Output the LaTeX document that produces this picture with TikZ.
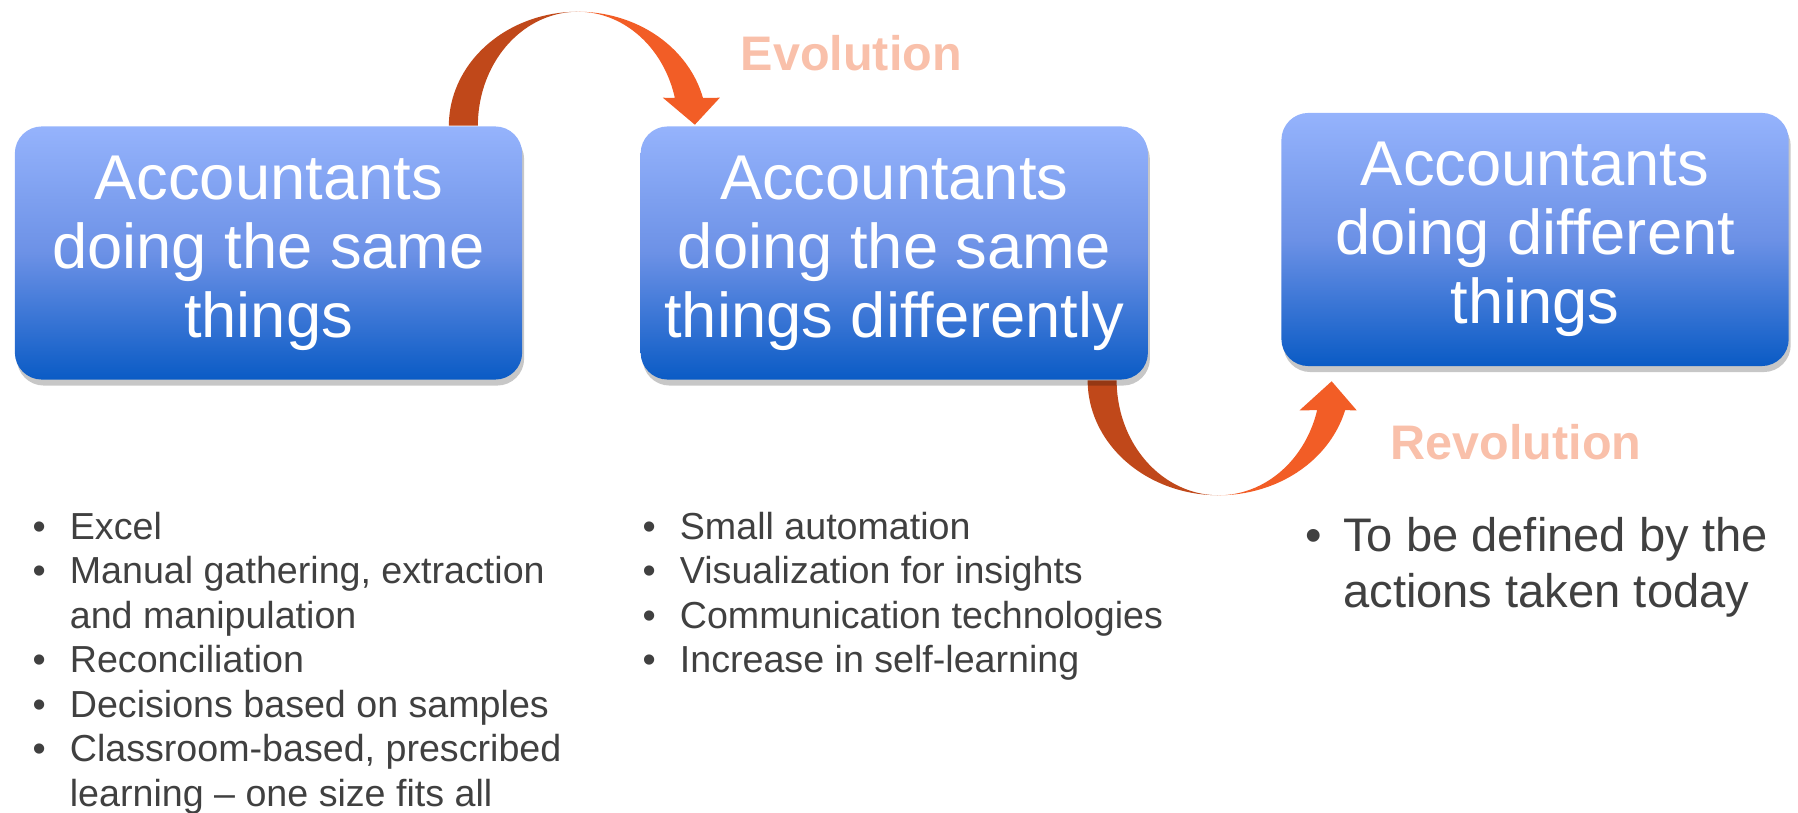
\documentclass[tikz,border=0pt]{standalone}
\usepackage{fontspec}
\setmainfont{Liberation Sans}
\usetikzlibrary{positioning,shadows,backgrounds}
\definecolor{boxtop}{RGB}{149,179,252}
\definecolor{boxmid}{RGB}{108,145,230}
\definecolor{boxbot}{RGB}{10,91,197}
\definecolor{arrdark}{RGB}{192,72,26}
\definecolor{arrbright}{RGB}{242,93,38}
\definecolor{labelc}{RGB}{249,192,170}
\definecolor{listc}{RGB}{64,64,64}

\begin{document}
\begin{tikzpicture}[
x=0.01cm, y=-0.01cm,
stage/.style={rounded corners=0.27cm, minimum width=5.07cm, minimum height=2.53cm,
  inner sep=0pt, align=center, text=white,
  top color=boxtop, bottom color=boxbot, middle color=boxmid,
  drop shadow={shadow xshift=0.02cm, shadow yshift=-0.06cm, fill=black, opacity=0.22},
  font=\fontsize{18}{19.6}\selectfont},
change/.style={anchor=base west, inner sep=0pt, text=labelc, font=\bfseries\fontsize{13.8}{16}\selectfont},
liste/.style={anchor=base west, inner sep=0pt, text=listc}
]
\useasboundingbox (0,0) rectangle (1798,813);

% Kaesten
\node[stage] (same) at (268.5,253) {Accountants\\doing the same\\things};
\node[stage, right=1.17cm of same] (diff) {Accountants\\doing the same\\things differently};
\node[stage, right=1.32cm of diff, yshift=0.135cm] (new) {Accountants\\doing different\\things};

% Bogen oben (Evolution)
\begin{scope}[on background layer, shift={(same.north east)}]
\def\ry{114}
\fill[arrdark] plot[domain=180:90, samples=40] ({55+129*cos(\x)},{-\ry*sin(\x)})
  -- plot[domain=90:180, samples=40] ({55+100*cos(\x)},{-\ry*sin(\x)}) -- cycle;
\fill[arrbright] plot[domain=90:14.1, samples=40] ({55+129*cos(\x)},{-\ry*sin(\x)})
  -- (197,-28) -- (172,-1) -- (140,-28)
  -- plot[domain=14.1:90, samples=40] ({55+100*cos(\x)},{-\ry*sin(\x)}) -- cycle;
\end{scope}

% Bogen unten (Revolution)
\begin{scope}[on background layer, shift={(diff.south east)}]
\def\ry{115}
\fill[arrdark] plot[domain=180:90, samples=40] ({70+131*cos(\x)},{\ry*sin(\x)})
  -- plot[domain=90:180, samples=40] ({70+102*cos(\x)},{\ry*sin(\x)}) -- cycle;
\fill[arrbright] plot[domain=90:15.1, samples=40] ({70+131*cos(\x)},{\ry*sin(\x)})
  -- (208,30) -- (183,1) -- (151,30)
  -- plot[domain=15.1:90, samples=40] ({70+102*cos(\x)},{\ry*sin(\x)}) -- cycle;
\end{scope}

\node[change] (evo) at (740,71) {Evolution};
\node[change] (revo) at (1390,460) {Revolution};

% Listen
\node[liste, font=\fontsize{10.7}{12.66}\selectfont] (list1) at (32,539) {%
\begin{tabular}[t]{@{}l@{\hspace{0.24cm}}l@{}}
\textbullet & Excel\\
\textbullet & Manual gathering, extraction\\
 & and manipulation\\
\textbullet & Reconciliation\\
\textbullet & Decisions based on samples\\
\textbullet & Classroom-based, prescribed\\
 & learning – one size fits all
\end{tabular}};

\node[liste, font=\fontsize{10.7}{12.66}\selectfont] (list2) at (642,539) {%
\begin{tabular}[t]{@{}l@{\hspace{0.24cm}}l@{}}
\textbullet & Small automation\\
\textbullet & Visualization for insights\\
\textbullet & Communication technologies\\
\textbullet & Increase in self-learning
\end{tabular}};

\node[liste, font=\fontsize{13.4}{16.2}\selectfont] (list3) at (1305,551) {%
\begin{tabular}[t]{@{}l@{\hspace{0.21cm}}l@{}}
\textbullet & To be defined by the\\
 & actions taken today
\end{tabular}};
\end{tikzpicture}
\end{document}
